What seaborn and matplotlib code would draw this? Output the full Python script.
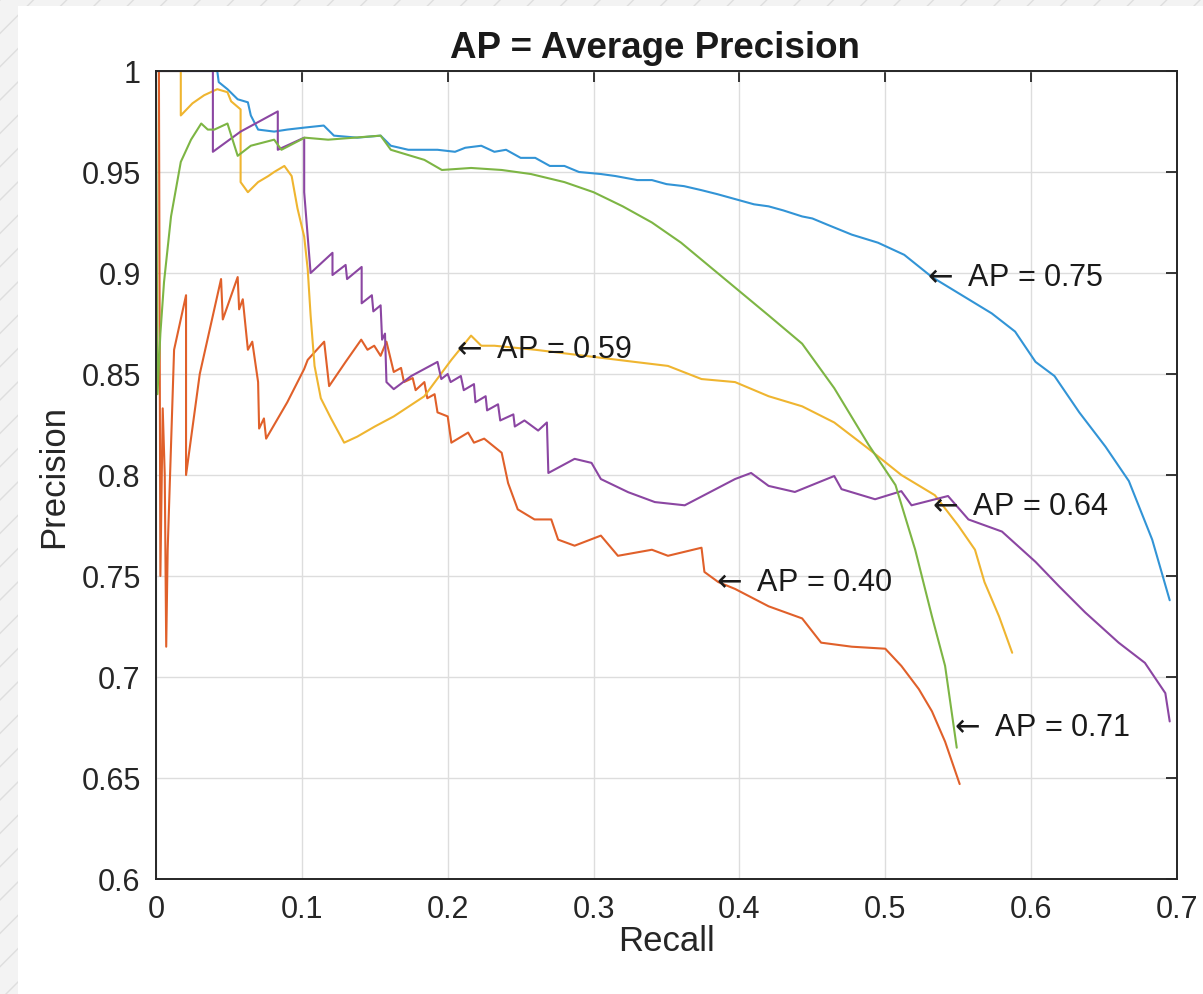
import pandas as pd
import matplotlib
matplotlib.use("Agg")
import matplotlib.pyplot as plt
from matplotlib.patches import Rectangle
import seaborn as sns

# ---- data (recall, precision) ----
blue_r = [0, 0.040, 0.042, 0.043, 0.049, 0.056, 0.063, 0.065, 0.070, 0.081, 0.090, 0.102,
          0.115, 0.122, 0.138, 0.154, 0.161, 0.173, 0.193, 0.205, 0.212, 0.223, 0.232, 0.24,
          0.25, 0.26, 0.27, 0.28, 0.29, 0.305, 0.315, 0.33, 0.34, 0.35, 0.362, 0.374, 0.385,
          0.40, 0.41, 0.42, 0.43, 0.443, 0.45, 0.46, 0.477, 0.495, 0.513,
          0.532, 0.5525, 0.573, 0.589, 0.603, 0.616, 0.633, 0.651, 0.667, 0.683, 0.695]
blue_p = [1, 1, 1, 0.9945, 0.991, 0.986, 0.9845, 0.978, 0.971, 0.970, 0.971, 0.972,
          0.973, 0.968, 0.967, 0.968, 0.963, 0.961, 0.961, 0.960, 0.962, 0.963, 0.960, 0.961,
          0.957, 0.957, 0.953, 0.953, 0.950, 0.949, 0.948, 0.946, 0.946, 0.944, 0.943, 0.941,
          0.939, 0.936, 0.934, 0.933, 0.931, 0.928, 0.927, 0.924, 0.919, 0.915, 0.909,
          0.898, 0.889, 0.880, 0.871, 0.856, 0.849, 0.831, 0.814, 0.797, 0.768, 0.738]

orange_r = [0, 0.002, 0.003, 0.0046, 0.006, 0.007, 0.008, 0.0124, 0.0206, 0.0206, 0.030,
            0.0446, 0.0458, 0.056, 0.057, 0.0595, 0.063, 0.066, 0.070, 0.0707, 0.074, 0.0755,
            0.09, 0.1016, 0.104, 0.1153, 0.1187, 0.13, 0.1407, 0.145, 0.1496, 0.154, 0.158,
            0.163, 0.168, 0.170, 0.176, 0.178, 0.184, 0.186, 0.191, 0.193, 0.2, 0.2025, 0.214,
            0.218, 0.225, 0.237, 0.2414, 0.248,
            0.2595, 0.271, 0.2757, 0.287, 0.305, 0.3167, 0.34, 0.351, 0.374, 0.376, 0.3855,
            0.397, 0.42, 0.443, 0.456, 0.477, 0.5, 0.511, 0.523, 0.532, 0.541, 0.551]
orange_p = [1.0, 1.0, 0.75, 0.833, 0.80, 0.715, 0.763, 0.862, 0.889, 0.80, 0.85,
            0.897, 0.877, 0.898, 0.882, 0.887, 0.862, 0.866, 0.846, 0.823, 0.828, 0.818,
            0.836, 0.8525, 0.857, 0.866, 0.844, 0.856, 0.867, 0.862, 0.864, 0.859, 0.866,
            0.851, 0.853, 0.846, 0.848, 0.842, 0.846, 0.838, 0.840, 0.831, 0.829, 0.816, 0.821,
            0.816, 0.818, 0.811, 0.796, 0.783,
            0.778, 0.778, 0.768, 0.765, 0.770, 0.760, 0.763, 0.760, 0.764, 0.752, 0.747,
            0.7436, 0.735, 0.729, 0.717, 0.715, 0.714, 0.7055, 0.694, 0.683, 0.668, 0.647]

yellow_r = [0, 0.017, 0.017, 0.025, 0.033, 0.042, 0.049, 0.0515, 0.058, 0.058, 0.063, 0.070,
            0.077, 0.081, 0.088, 0.093, 0.097, 0.1016, 0.104, 0.106, 0.1087, 0.113, 0.120,
            0.129, 0.138, 0.150, 0.163, 0.184, 0.2025, 0.216, 0.223, 0.232, 0.26, 0.294,
            0.328, 0.351, 0.374, 0.397, 0.42, 0.443, 0.465, 0.4885, 0.511, 0.534, 0.550,
            0.5615, 0.568, 0.578, 0.587]
yellow_p = [1, 1, 0.978, 0.984, 0.988, 0.991, 0.9895, 0.985, 0.981, 0.945, 0.940, 0.945,
            0.948, 0.950, 0.953, 0.948, 0.932, 0.918, 0.902, 0.879, 0.854, 0.838, 0.828,
            0.816, 0.819, 0.824, 0.829, 0.839, 0.857, 0.869, 0.864, 0.864, 0.862, 0.859,
            0.856, 0.854, 0.8475, 0.846, 0.839, 0.834, 0.826, 0.813, 0.800, 0.790, 0.775,
            0.763, 0.747, 0.730, 0.712]

purple_r = [0, 0.039, 0.039, 0.058, 0.0835, 0.0835, 0.1016, 0.1016, 0.106, 0.121, 0.121,
            0.130, 0.131, 0.141, 0.141, 0.148, 0.149, 0.154, 0.155, 0.157, 0.158, 0.163,
            0.175, 0.193, 0.1956, 0.200, 0.202, 0.209, 0.211, 0.218, 0.219, 0.226, 0.227,
            0.2345, 0.236, 0.245, 0.246, 0.2526, 0.262, 0.268, 0.269, 0.287,
            0.2986, 0.305, 0.3237, 0.342, 0.3625, 0.397, 0.408, 0.42, 0.438, 0.465, 0.470,
            0.493, 0.511, 0.518, 0.543, 0.557, 0.580, 0.603, 0.619, 0.637, 0.660, 0.678,
            0.692, 0.695]
purple_p = [1, 1, 0.960, 0.970, 0.980, 0.961, 0.967, 0.940, 0.900, 0.910, 0.899,
            0.904, 0.897, 0.903, 0.885, 0.889, 0.881, 0.884, 0.867, 0.870, 0.846, 0.8425,
            0.849, 0.856, 0.8475, 0.850, 0.846, 0.849, 0.842, 0.845, 0.836, 0.839, 0.832,
            0.835, 0.827, 0.830, 0.824, 0.827, 0.822, 0.826, 0.801, 0.808,
            0.806, 0.798, 0.7915, 0.7866, 0.785, 0.798, 0.801, 0.7946, 0.7916, 0.7995, 0.793,
            0.788, 0.792, 0.785, 0.7896, 0.778, 0.772, 0.757, 0.745, 0.732, 0.717, 0.707,
            0.692, 0.678]

green_r = [0, 0.001, 0.003, 0.0055, 0.0103, 0.017, 0.024, 0.031, 0.0355, 0.040, 0.049,
           0.056, 0.065, 0.081, 0.086, 0.102, 0.118, 0.154, 0.161, 0.184, 0.196, 0.216,
           0.237, 0.257, 0.28, 0.30, 0.32, 0.34, 0.36, 0.38, 0.40, 0.42, 0.443, 0.465,
           0.4885, 0.507, 0.5205, 0.532, 0.541, 0.549]
green_p = [1.0, 0.84, 0.87, 0.8955, 0.928, 0.955, 0.966, 0.974, 0.971, 0.971, 0.974,
           0.958, 0.963, 0.966, 0.961, 0.967, 0.966, 0.968, 0.961, 0.956, 0.951, 0.952,
           0.951, 0.949, 0.945, 0.940, 0.933, 0.925, 0.915, 0.903, 0.891, 0.879, 0.865,
           0.843, 0.815, 0.795, 0.763, 0.730, 0.7055, 0.665]

curve_names = ["blue", "orange", "yellow", "purple", "green"]
curve_colors = ["#3294d6", "#e0602a", "#efb530", "#8b46a2", "#7db544"]

ap_labels = ["AP = 0.75", "AP = 0.59", "AP = 0.64", "AP = 0.40", "AP = 0.71"]
ap_x = [0.5305, 0.208, 0.534, 0.3857, 0.549]
ap_y = [0.898, 0.8624, 0.7847, 0.747, 0.675]

x_ticks = [0, 0.1, 0.2, 0.3, 0.4, 0.5, 0.6, 0.7]
x_ticklabels = ["0", "0.1", "0.2", "0.3", "0.4", "0.5", "0.6", "0.7"]
y_ticks = [0.6, 0.65, 0.7, 0.75, 0.8, 0.85, 0.9, 0.95, 1.0]
y_ticklabels = ["0.6", "0.65", "0.7", "0.75", "0.8", "0.85", "0.9", "0.95", "1"]

# ---- long table for seaborn ----
series = {"blue": (blue_r, blue_p), "orange": (orange_r, orange_p),
          "yellow": (yellow_r, yellow_p), "purple": (purple_r, purple_p),
          "green": (green_r, green_p)}
frames = []
for name in curve_names:
    r, p = series[name]
    frames.append(pd.DataFrame({"Recall": r, "Precision": p, "curve": name}))
df = pd.concat(frames, ignore_index=True)

sns.set_theme(style="white")
plt.rcParams["font.family"] = ["Liberation Sans", "DejaVu Sans"]
plt.rcParams["hatch.linewidth"] = 1.0

fig = plt.figure(figsize=(12.03, 9.95), dpi=100)
# hatched strip around the top/left edge, white panel on top of it
fig.patches.append(Rectangle((0, 0), 1, 1, transform=fig.transFigure, facecolor="#f3f3f3",
                             edgecolor="#dedede", hatch="/", lw=0, zorder=-3))
fig.patches.append(Rectangle((18 / 1203, 0), 1, (995 - 7) / 995, transform=fig.transFigure,
                             facecolor="white", lw=0, zorder=-2))

ax = fig.add_axes([156 / 1203, 1 - 880 / 995, (1177 - 156) / 1203, (880 - 72) / 995])
ax.set_facecolor("white")

sns.lineplot(data=df, x="Recall", y="Precision", hue="curve", hue_order=curve_names,
             palette=curve_colors, estimator=None, sort=False, legend=False,
             lw=1.5, ax=ax)

# MATLAB-style "\leftarrow AP = x" labels pointing at the curves
for lab, x, y in zip(ap_labels, ap_x, ap_y):
    ax.annotate(r"$\leftarrow$ " + lab, xy=(x, y), xytext=(-8, 0), textcoords="offset pixels",
                fontsize=22, color="#1a1a1a", ha="left", va="center")

ax.set_xlim(0, 0.7)
ax.set_ylim(0.6, 1.0)
ax.set_xticks(x_ticks)
ax.set_xticklabels(x_ticklabels)
ax.set_yticks(y_ticks)
ax.set_yticklabels(y_ticklabels)
ax.grid(True, color="#dddddd", lw=1.0)
ax.set_axisbelow(True)
ax.tick_params(direction="in", length=8, width=1.3, top=True, right=True,
               labelsize=22, labelcolor="#262626", color="#262626", pad=11)
for s in ax.spines.values():
    s.set_color("#262626")
    s.set_linewidth(1.4)
    s.set_visible(True)

ax.set_xlabel("Recall", fontsize=25, color="#262626", labelpad=0)
ax.set_ylabel("Precision", fontsize=25, color="#262626", labelpad=8)
ax.set_title("AP = Average Precision", fontsize=26.5, fontweight="bold", color="#1a1a1a",
             pad=10, x=0.489)

fig.savefig("out.png", dpi=100)
